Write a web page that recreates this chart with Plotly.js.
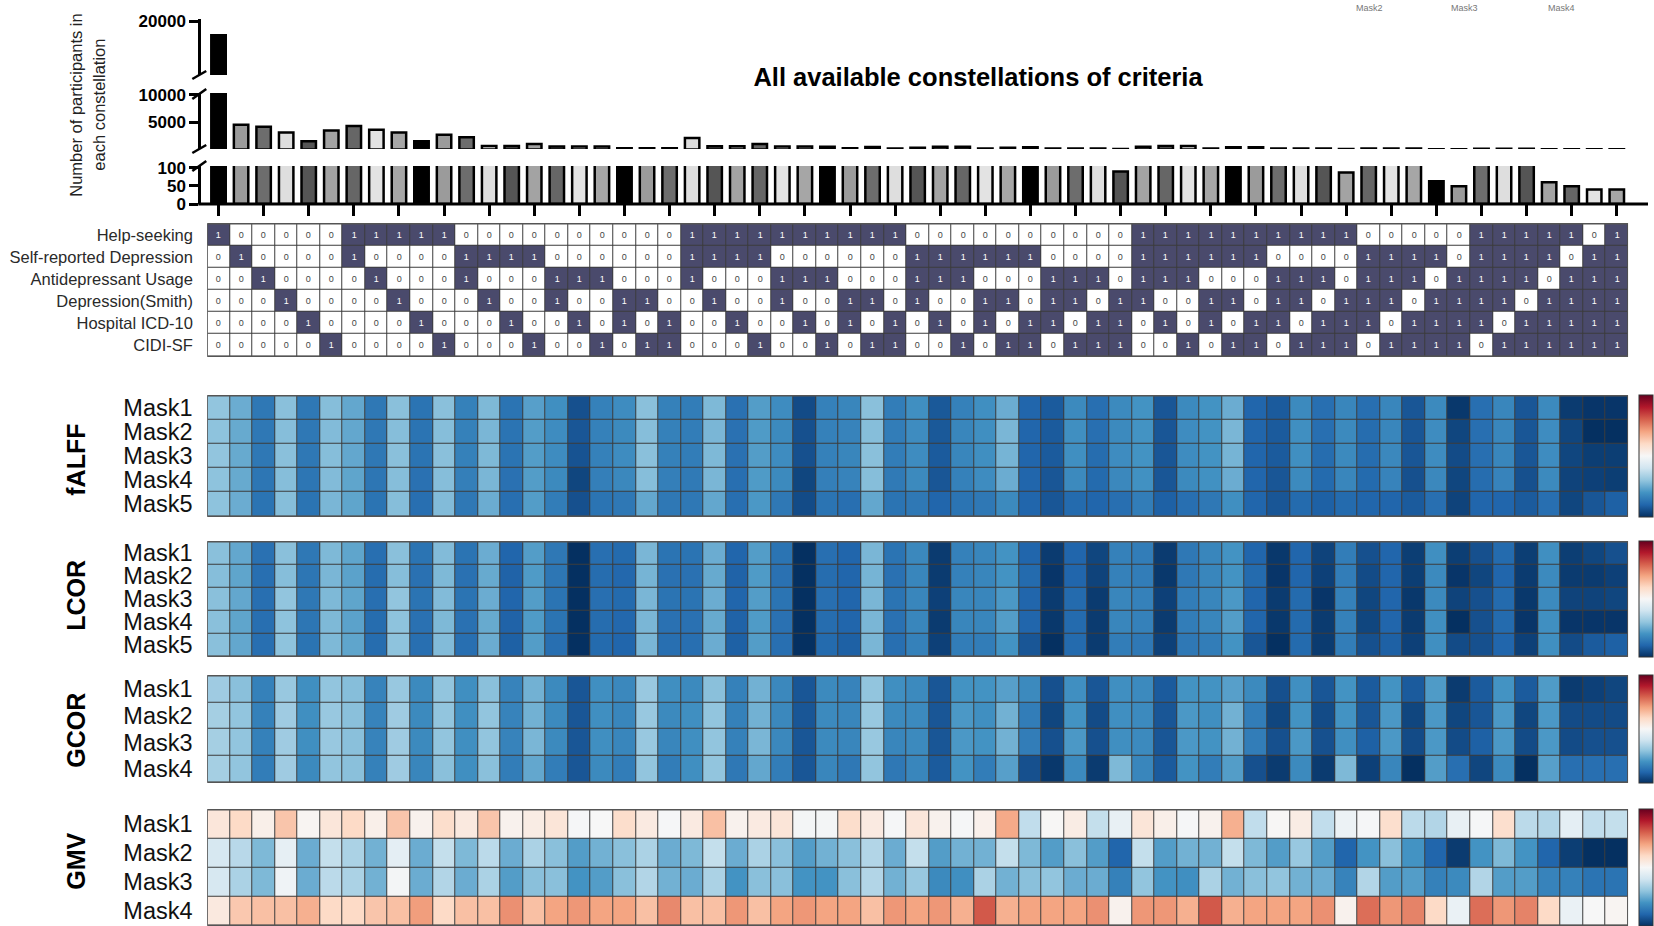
<!DOCTYPE html>
<html>
<head>
<meta charset="utf-8">
<script src="https://cdn.plot.ly/plotly-3.0.1.min.js"></script>
<style>html,body{margin:0;padding:0;background:#fff}#chart{width:1654px;height:926px}</style>
</head>
<body>
<div id="chart"></div>
<script>
// ---------------- DATA ----------------
const constellationIds = [1,2,3,4,5,6,7,8,9,10,11,12,13,14,15,16,17,18,19,20,21,22,23,24,25,26,27,28,29,30,31,32,33,34,35,36,37,38,39,40,41,42,43,44,45,46,47,48,49,50,51,52,53,54,55,56,57,58,59,60,61,62,63];
const tickIds = [1,3,5,7,9,11,13,15,17,19,21,23,25,27,29,31,33,35,37,39,41,43,45,47,49,51,53,55,57,59,61,63];

const participants = [18700,4500,4150,3100,1500,3450,4300,3600,3100,1500,2700,2250,650,650,1000,550,550,550,250,250,250,2100,600,600,1000,550,550,500,250,450,200,350,500,500,200,350,400,200,200,200,90,500,650,650,200,400,400,180,180,180,87,180,180,180,63,49,160,160,160,60,49,40,40];

const criteria = ['Help-seeking','Self-reported Depression','Antidepressant Usage','Depression(Smith)','Hospital ICD-10','CIDI-SF'];
const helpSeeking   = [1,0,0,0,0,0, 1,1,1,1,1, 0,0,0,0,0,0,0,0,0,0, 1,1,1,1,1,1,1,1,1,1, 0,0,0,0,0,0,0,0,0,0, 1,1,1,1,1,1,1,1,1,1, 0,0,0,0,0, 1,1,1,1,1,0, 1];
const selfReported  = [0,1,0,0,0,0, 1,0,0,0,0,1,1,1,1,0,0,0,0,0,0, 1,1,1,1,0,0,0,0,0,0,1,1,1,1,1,1,0,0,0,0, 1,1,1,1,1,1,0,0,0,0,1,1,1,1,0, 1,1,1,1,0,1, 1];
const antidepress   = [0,0,1,0,0,0, 0,1,0,0,0,1,0,0,0,1,1,1,0,0,0, 1,0,0,0,1,1,1,0,0,0,1,1,1,0,0,0,1,1,1,0, 1,1,1,0,0,0,1,1,1,0,1,1,1,0,1, 1,1,1,0,1,1, 1];
const depSmith      = [0,0,0,1,0,0, 0,0,1,0,0,0,1,0,0,1,0,0,1,1,0, 0,1,0,0,1,0,0,1,1,0,1,0,0,1,1,0,1,1,0,1, 1,0,0,1,1,0,1,1,0,1,1,1,0,1,1, 1,1,0,1,1,1, 1];
const hospitalICD   = [0,0,0,0,1,0, 0,0,0,1,0,0,0,1,0,0,1,0,1,0,1, 0,0,1,0,0,1,0,1,0,1,0,1,0,1,0,1,1,0,1,1, 0,1,0,1,0,1,1,0,1,1,1,0,1,1,1, 1,0,1,1,1,1, 1];
const cidiSF        = [0,0,0,0,0,1, 0,0,0,0,1,0,0,0,1,0,0,1,0,1,1, 0,0,0,1,0,0,1,0,1,1,0,0,1,0,1,1,0,1,1,1, 0,0,1,0,1,1,0,1,1,1,0,1,1,1,1, 0,1,1,1,1,1, 1];

const masks5 = ['Mask1','Mask2','Mask3','Mask4','Mask5'];
const masks4 = ['Mask1','Mask2','Mask3','Mask4'];
const topEdgeLabels = ['Mask2','Mask3','Mask4'];

const fALFF_M1 = [-.40,-.50,-.72,-.42,-.72,-.43,-.52,-.72,-.42,-.74,-.42,-.68,-.45,-.74,-.55,-.62,-.88,-.68,-.63,-.42,-.68,-.70,-.45,-.75,-.56,-.63,-.90,-.68,-.66,-.42,-.70,-.62,-.85,-.68,-.62,-.50,-.80,-.84,-.64,-.76,-.64,-.60,-.86,-.64,-.60,-.50,-.80,-.84,-.64,-.76,-.66,-.76,-.66,-.86,-.64,-.97,-.76,-.66,-.86,-.64,-.96,-.98,-.98];
const fALFF_M2 = [-.41,-.51,-.72,-.43,-.72,-.44,-.52,-.72,-.43,-.74,-.43,-.68,-.46,-.74,-.56,-.63,-.86,-.68,-.64,-.43,-.68,-.70,-.46,-.75,-.57,-.64,-.88,-.68,-.67,-.43,-.70,-.63,-.85,-.66,-.62,-.46,-.80,-.84,-.62,-.76,-.64,-.60,-.86,-.63,-.60,-.46,-.80,-.84,-.62,-.76,-.64,-.77,-.66,-.86,-.63,-.92,-.76,-.66,-.86,-.63,-.92,-1.0,-1.0];
const fALFF_M3 = [-.40,-.51,-.72,-.42,-.72,-.43,-.52,-.72,-.42,-.74,-.42,-.68,-.45,-.74,-.56,-.63,-.87,-.68,-.63,-.42,-.68,-.70,-.45,-.75,-.56,-.63,-.88,-.68,-.66,-.42,-.70,-.63,-.84,-.66,-.62,-.47,-.80,-.84,-.62,-.77,-.63,-.60,-.86,-.63,-.60,-.47,-.80,-.84,-.62,-.77,-.64,-.77,-.65,-.86,-.63,-.90,-.76,-.66,-.86,-.63,-.92,-.95,-.95];
const fALFF_M4 = [-.41,-.51,-.73,-.43,-.73,-.44,-.53,-.73,-.43,-.75,-.43,-.69,-.46,-.75,-.56,-.64,-.92,-.69,-.65,-.43,-.69,-.71,-.46,-.76,-.57,-.64,-.92,-.69,-.67,-.43,-.71,-.64,-.86,-.68,-.63,-.50,-.80,-.86,-.64,-.78,-.65,-.61,-.86,-.64,-.61,-.50,-.80,-.86,-.64,-.78,-.66,-.78,-.67,-.88,-.65,-.92,-.77,-.67,-.88,-.64,-.93,-.94,-.95];
const fALFF_M5 = [-.41,-.50,-.74,-.43,-.74,-.46,-.53,-.74,-.43,-.76,-.44,-.72,-.50,-.76,-.56,-.70,-.88,-.74,-.72,-.52,-.72,-.72,-.52,-.76,-.58,-.72,-.90,-.74,-.76,-.52,-.74,-.72,-.80,-.74,-.72,-.64,-.80,-.86,-.78,-.80,-.76,-.70,-.82,-.76,-.72,-.62,-.80,-.86,-.78,-.82,-.78,-.80,-.80,-.84,-.76,-.93,-.80,-.80,-.84,-.76,-.92,-.86,-.82];

const LCOR_M1 = [-.42,-.52,-.75,-.42,-.72,-.45,-.53,-.76,-.42,-.74,-.44,-.74,-.50,-.80,-.56,-.72,-1.0,-.76,-.78,-.46,-.74,-.74,-.50,-.80,-.56,-.74,-1.0,-.76,-.80,-.46,-.74,-.65,-.96,-.68,-.66,-.60,-.80,-.96,-.80,-.92,-.68,-.70,-.96,-.72,-.66,-.60,-.80,-.97,-.80,-.93,-.70,-.88,-.80,-.95,-.62,-.95,-.88,-.78,-.95,-.62,-.95,-.92,-.88];
const LCOR_M2 = [-.43,-.53,-.76,-.43,-.73,-.46,-.54,-.77,-.43,-.75,-.45,-.75,-.51,-.81,-.57,-.73,-1.0,-.77,-.79,-.47,-.75,-.75,-.51,-.81,-.57,-.75,-1.0,-.77,-.80,-.47,-.75,-.66,-.96,-.68,-.66,-.60,-.78,-.98,-.80,-.93,-.68,-.70,-.97,-.72,-.66,-.60,-.78,-.98,-.80,-.94,-.70,-.90,-.80,-.95,-.64,-.98,-.92,-.80,-.96,-.64,-.96,-.96,-.94];
const LCOR_M3 = [-.42,-.52,-.76,-.40,-.72,-.45,-.53,-.76,-.40,-.74,-.44,-.74,-.50,-.80,-.56,-.74,-1.0,-.76,-.78,-.46,-.74,-.74,-.50,-.80,-.56,-.74,-1.0,-.76,-.80,-.46,-.74,-.66,-.94,-.66,-.66,-.58,-.80,-.96,-.78,-.96,-.66,-.68,-.94,-.70,-.66,-.58,-.80,-.96,-.78,-.98,-.68,-.92,-.80,-.97,-.64,-.93,-.88,-.78,-.97,-.64,-.93,-.93,-.92];
const LCOR_M4 = [-.42,-.53,-.76,-.41,-.73,-.45,-.54,-.77,-.41,-.75,-.45,-.75,-.51,-.81,-.57,-.74,-1.0,-.77,-.79,-.46,-.75,-.75,-.51,-.81,-.57,-.75,-1.0,-.77,-.80,-.46,-.75,-.66,-.96,-.66,-.66,-.56,-.80,-.97,-.78,-.96,-.66,-.68,-.96,-.70,-.66,-.56,-.80,-.97,-.78,-.96,-.68,-.92,-.80,-.96,-.62,-1.0,-.88,-.78,-.98,-.62,-.98,-.98,-.98];
const LCOR_M5 = [-.42,-.52,-.76,-.41,-.74,-.45,-.53,-.77,-.41,-.76,-.44,-.76,-.50,-.82,-.56,-.76,-1.0,-.78,-.80,-.46,-.76,-.76,-.50,-.82,-.56,-.76,-1.0,-.78,-.82,-.46,-.76,-.68,-.94,-.70,-.70,-.60,-.86,-1.0,-.78,-.96,-.70,-.72,-.94,-.72,-.70,-.60,-.86,-1.0,-.78,-.96,-.70,-.88,-.82,-.94,-.62,-.90,-.88,-.80,-.94,-.62,-.90,-.84,-.82];

const GCOR_M1 = [-.36,-.42,-.68,-.38,-.62,-.40,-.43,-.67,-.38,-.64,-.40,-.62,-.42,-.67,-.48,-.64,-.86,-.62,-.65,-.38,-.62,-.64,-.42,-.68,-.48,-.65,-.86,-.64,-.67,-.40,-.62,-.64,-.86,-.60,-.60,-.55,-.64,-.88,-.62,-.86,-.62,-.64,-.84,-.60,-.60,-.55,-.64,-.88,-.62,-.86,-.60,-.84,-.60,-.84,-.57,-.96,-.84,-.60,-.84,-.57,-.96,-.94,-.92];
const GCOR_M2 = [-.34,-.40,-.68,-.36,-.62,-.38,-.42,-.67,-.36,-.64,-.40,-.62,-.40,-.67,-.48,-.64,-.86,-.62,-.66,-.38,-.64,-.62,-.40,-.68,-.48,-.65,-.86,-.64,-.66,-.38,-.64,-.64,-.86,-.58,-.62,-.48,-.70,-.92,-.60,-.90,-.62,-.64,-.86,-.58,-.62,-.48,-.70,-.92,-.60,-.90,-.60,-.86,-.58,-.92,-.58,-.92,-.86,-.58,-.92,-.58,-.90,-.90,-.90];
const GCOR_M3 = [-.34,-.40,-.68,-.36,-.62,-.38,-.42,-.67,-.36,-.64,-.40,-.62,-.40,-.67,-.46,-.64,-.86,-.62,-.66,-.38,-.66,-.62,-.40,-.68,-.46,-.65,-.86,-.64,-.66,-.38,-.66,-.64,-.86,-.58,-.60,-.48,-.70,-.88,-.58,-.88,-.62,-.64,-.86,-.58,-.60,-.48,-.70,-.88,-.58,-.88,-.62,-.82,-.58,-.90,-.58,-.90,-.82,-.58,-.90,-.58,-.90,-.88,-.88];
const GCOR_M4 = [-.34,-.40,-.70,-.36,-.64,-.40,-.42,-.68,-.36,-.66,-.42,-.62,-.42,-.70,-.52,-.70,-.86,-.64,-.70,-.40,-.70,-.62,-.40,-.72,-.52,-.70,-.86,-.66,-.72,-.40,-.72,-.66,-.84,-.60,-.70,-.55,-.88,-.97,-.64,-.96,-.45,-.66,-.84,-.60,-.70,-.56,-.88,-.96,-.64,-.96,-.45,-.94,-.66,-1.0,-.56,-.76,-.92,-.64,-1.0,-.55,-.76,-.76,-.76];

const GMV_M1 = [.12,.20,.06,.28,.02,.12,.20,.06,.28,.04,.18,.10,.28,.04,.08,.13,-.01,0,.18,.09,-.01,.09,.30,.04,.09,.13,-.02,-.02,.18,.09,-.01,.12,.04,-.01,.05,.38,-.25,.01,.08,-.24,-.08,.13,.06,-.01,.04,.36,-.25,.01,.08,-.25,-.06,-.01,.17,-.27,-.30,-.08,-.01,.17,-.27,-.30,-.10,-.25,-.24];
const GMV_M2 = [-.17,-.28,-.45,-.09,-.50,-.24,-.32,-.48,-.10,-.50,-.24,-.45,-.27,-.50,-.32,-.42,-.56,-.48,-.42,-.32,-.50,-.45,-.24,-.50,-.32,-.42,-.56,-.48,-.42,-.30,-.50,-.24,-.56,-.48,-.48,-.24,-.45,-.56,-.42,-.56,-.80,-.24,-.56,-.48,-.48,-.24,-.45,-.56,-.38,-.56,-.80,-.60,-.42,-.60,-.80,-.96,-.60,-.45,-.60,-.80,-.95,-1.0,-1.0];
const GMV_M3 = [-.17,-.32,-.45,-.04,-.50,-.27,-.32,-.48,-.02,-.50,-.30,-.50,-.32,-.56,-.42,-.42,-.60,-.56,-.42,-.30,-.48,-.50,-.32,-.60,-.42,-.42,-.60,-.60,-.42,-.30,-.48,-.38,-.64,-.62,-.32,-.48,-.42,-.40,-.50,-.50,-.68,-.40,-.60,-.62,-.32,-.48,-.42,-.40,-.48,-.50,-.67,-.30,-.56,-.56,-.68,-.64,-.30,-.56,-.56,-.67,-.68,-.74,-.74];
const GMV_M4 = [.10,.27,.30,.30,.36,.20,.20,.28,.30,.42,.20,.30,.30,.46,.30,.40,.44,.40,.40,.30,.48,.30,.30,.44,.30,.40,.44,.40,.40,.30,.44,.40,.44,.36,.62,.36,.40,.40,.40,.46,.04,.44,.44,.36,.62,.36,.40,.40,.40,.46,.04,.56,.44,.50,.20,-.07,.56,.44,.50,.20,-.07,0,.02];

// ---------------- STYLE ----------------
const W = 1654, H = 926;
const px = v => v / W;
const py = v => 1 - v / H;
const FONT = 'Arial, "Liberation Sans", Helvetica, sans-serif';
const barPalette = ['#000000','#9b9b9b','#6d6d6d','#dedede','#555555','#a3a3a3','#666666','#e3e3e3','#a6a6a6'];
const barColors = constellationIds.map((_, i) => barPalette[i % barPalette.length]);
const rdbu = [[0,'#053061'],[0.1,'#2166ac'],[0.2,'#4393c3'],[0.3,'#92c5de'],[0.4,'#d1e5f0'],[0.5,'#f7f7f7'],[0.6,'#fddbc7'],[0.7,'#f4a582'],[0.8,'#d6604d'],[0.9,'#b2182b'],[1,'#67001f']];
const xDom = [px(208), px(1634)];

// heatmap blocks: [name, rows, labels, top, bottom, labelCenter, yaxis]
const blocks = [
  ['fALFF', [fALFF_M1,fALFF_M2,fALFF_M3,fALFF_M4,fALFF_M5], masks5, 395, 517, 460, 'y5'],
  ['LCOR',  [LCOR_M1,LCOR_M2,LCOR_M3,LCOR_M4,LCOR_M5], masks5, 541, 657, 595, 'y6'],
  ['GCOR',  [GCOR_M1,GCOR_M2,GCOR_M3,GCOR_M4], masks4, 675, 783, 730, 'y7'],
  ['GMV',   [GMV_M1,GMV_M2,GMV_M3,GMV_M4], masks4, 809, 926, 861, 'y8']
];

const traces = [];
// broken-axis bars: same data drawn on three y segments
['y','y2','y3'].forEach(ya => {
  traces.push({
    type:'bar', x: constellationIds, y: participants, xaxis:'x', yaxis: ya,
    width: 0.64, marker:{color: barColors, line:{color:'#000', width:2.5}},
    hoverinfo:'skip'
  });
});

// criteria matrix
traces.push({
  type:'heatmap', x: constellationIds, y: criteria,
  z: [helpSeeking, selfReported, antidepress, depSmith, hospitalICD, cidiSF],
  xaxis:'x2', yaxis:'y4', colorscale:[[0,'#ffffff'],[1,'#4a4a6c']], zmin:0, zmax:1,
  showscale:false, xgap:1, ygap:1, texttemplate:'%{z}', textfont:{size:9, family:FONT},
  hoverinfo:'skip'
});

blocks.forEach(b => {
  const [name, rows, labels, top, bottom, lc, ya] = b;
  traces.push({
    type:'heatmap', x: constellationIds, y: labels, z: rows,
    xaxis:'x2', yaxis: ya, colorscale: rdbu, zmin:-1, zmax:1, xgap:1, ygap:1,
    hoverinfo:'skip', showscale:true,
    colorbar:{x: px(1645), xanchor:'left', y: py((top+bottom)/2), yanchor:'middle',
      len:(bottom-top)/H, lenmode:'fraction', thickness:14, xpad:0, ypad:0,
      outlinewidth:1, outlinecolor:'#333', showticklabels:false, ticks:''}
  });
});

const segAxis = (dom, range, vals) => ({
  domain: dom, range: range, anchor:'free', position: px(200), side:'left',
  showline:true, linewidth:3, linecolor:'#000', ticks:'outside', ticklen:9, tickwidth:3, tickcolor:'#000',
  tickvals: vals, ticktext: vals.map(String), showgrid:false, zeroline:false, fixedrange:true,
  tickfont:{size:17, family:FONT, color:'#000', weight:'bold'}
});

const heatAxis = (top, bottom, labels, size, tl, color) => ({
  domain:[py(bottom), py(top)], type:'category', autorange:'reversed', anchor:'x2',
  tickmode:'array', tickvals: labels, ticktext: labels,
  showgrid:false, zeroline:false, showline:false, ticks:'outside', ticklen: tl, tickcolor:'rgba(0,0,0,0)',
  tickfont:{size:size, family:FONT, color:color}
});

const layout = {
  width: W, height: H, margin:{l:0,r:0,t:0,b:0}, paper_bgcolor:'#fff', plot_bgcolor:'rgba(0,0,0,0)',
  showlegend:false, font:{family:FONT, color:'#000'}, bargap:0,
  title:{text:'<b>All available constellations of criteria</b>', x: px(978), xanchor:'center', y: py(77), yanchor:'middle',
    font:{size:25.5, family:FONT, color:'#000'}},
  xaxis:{domain:xDom, range:[0.5,63.5], anchor:'y', showline:false, ticks:'outside', tickvals: tickIds,
    ticklen:11, tickwidth:3, tickcolor:'#000', showticklabels:false, showgrid:false, zeroline:false},
  yaxis: segAxis([py(204), py(166)], [0, 105], [0, 50, 100]),
  yaxis2: segAxis([py(149), py(93)], [100, 10300], [5000, 10000]),
  yaxis3: segAxis([py(75), py(19)], [15000, 20200], [20000]),
  xaxis2:{domain:xDom, range:[0.5,63.5], anchor:'y4', visible:false},
  yaxis4: heatAxis(223, 357, criteria, 16.5, 10, '#2a2a2a'),
  yaxis5: heatAxis(395, 517, masks5, 23.5, 9, '#111'),
  yaxis6: heatAxis(541, 657, masks5, 23.5, 9, '#111'),
  yaxis7: heatAxis(675, 783, masks4, 23.5, 9, '#111'),
  yaxis8: heatAxis(809, 926, masks4, 23.5, 9, '#111'),
  shapes: [], annotations: []
};

// heatmap grid backgrounds and borders
const gridBlocks = [['y4', 6]].concat(blocks.map(b => [b[6], b[2].length]));
gridBlocks.forEach(([ya, n]) => {
  layout.shapes.push({type:'rect', xref:'x2', yref: ya, x0:0.5, x1:63.5, y0:-0.5, y1:n-0.5,
    fillcolor:'#3c3c3c', line:{width:0}, layer:'below'});
  layout.shapes.push({type:'rect', xref:'x2', yref: ya, x0:0.5, x1:63.5, y0:-0.5, y1:n-0.5,
    fillcolor:'rgba(0,0,0,0)', line:{color:'#555', width:1.5}, layer:'above'});
});

// bar baseline extending to the right edge
layout.shapes.push({type:'line', xref:'paper', yref:'paper', x0:px(199), x1:px(1654), y0:py(204), y1:py(204),
  line:{color:'#000', width:3}});
// axis break marks
[[79,71],[99,89],[153,145],[171,161]].forEach(([a, b]) => {
  layout.shapes.push({type:'line', xref:'paper', yref:'paper', x0:px(193), x1:px(207), y0:py(a), y1:py(b),
    line:{color:'#000', width:2.5}});
});

// group labels
blocks.forEach(b => {
  layout.annotations.push({text:'<b>'+b[0]+'</b>', xref:'paper', yref:'paper', x:px(76), y:py(b[5]),
    xanchor:'center', yanchor:'middle', textangle:-90, showarrow:false, font:{size:25, family:FONT, color:'#000'}});
});
// bar y-axis title (two lines)
layout.annotations.push({text:'Number of participants in', xref:'paper', yref:'paper', x:px(76), y:py(105),
  xanchor:'center', yanchor:'middle', textangle:-90, showarrow:false, font:{size:16.5, family:FONT, color:'#222'}});
layout.annotations.push({text:'each constellation', xref:'paper', yref:'paper', x:px(99), y:py(105),
  xanchor:'center', yanchor:'middle', textangle:-90, showarrow:false, font:{size:16.5, family:FONT, color:'#222'}});
// small labels of a neighbouring panel at the top edge
[1374, 1470, 1567].forEach((x, i) => {
  layout.annotations.push({text: topEdgeLabels[i], xref:'paper', yref:'paper', x:px(x), y:py(1), xanchor:'center', yanchor:'top',
    showarrow:false, font:{size:9, family:FONT, color:'#777'}});
});

Plotly.newPlot('chart', traces, layout, {displayModeBar:false, staticPlot:true});
</script>
</body>
</html>
